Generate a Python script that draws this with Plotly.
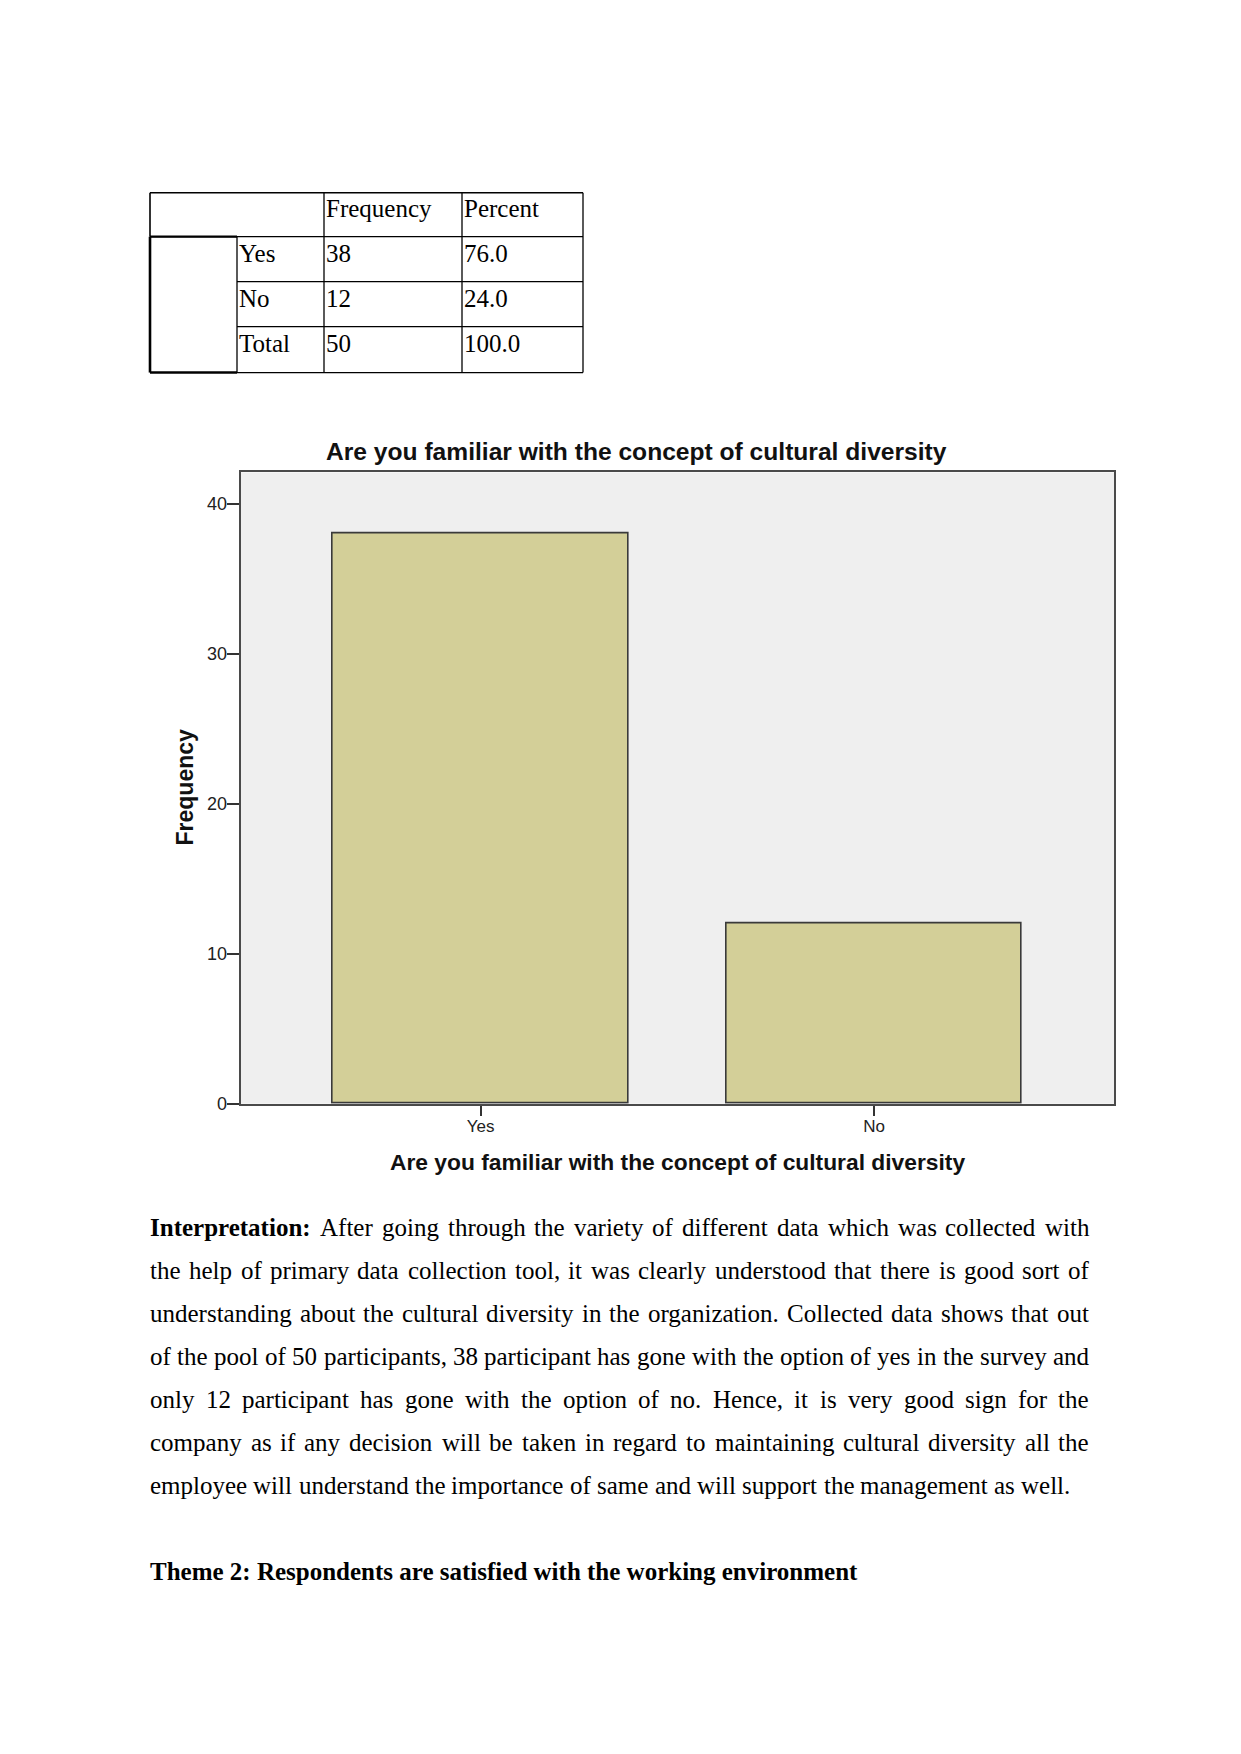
import plotly.graph_objects as go

W, H = 1241, 1754
YK = 1762.0 / 1754.0  # small vertical correction observed between capture and reference

# ---------------- data ----------------
categories = ["Yes", "No"]
frequencies = [38, 12]
table_rows = ["Yes", "No", "Total"]
table_freq = ["38", "12", "50"]
table_pct = ["76.0", "24.0", "100.0"]
table_headers = ["Frequency", "Percent"]
y_ticks = [0, 10, 20, 30, 40]

chart_title = "Are you familiar with the concept of cultural diversity"
x_title = "Are you familiar with the concept of cultural diversity"
y_title = "Frequency"

para_lines = [
    [("Interpretation:", True), ("After going through the variety of different data which was collected with", False)],
    [("the help of primary data collection tool, it was clearly understood that there is good sort of", False)],
    [("understanding about the cultural diversity in the organization. Collected data shows that out", False)],
    [("of the pool of 50 participants, 38 participant has gone with the option of yes in the survey and", False)],
    [("only 12 participant has gone with the option of no. Hence, it is very good sign for the", False)],
    [("company as if any decision will be taken in regard to maintaining cultural diversity all the", False)],
    [("employee will understand the importance of same and will support the management as well.", False)],
]
theme_text = "Theme 2: Respondents are satisfied with the working environment"

# ---------------- font metrics (Times / Liberation Serif) ----------------
TR = dict(zip("ABCDEFGHIJKLMNOPQRSTUVWXYZ",
              [722, 667, 667, 722, 611, 556, 722, 722, 333, 389, 722, 611, 889, 722, 722, 556, 722, 667, 556, 611, 722, 722, 944, 722, 722, 611]))
TR.update(zip("abcdefghijklmnopqrstuvwxyz",
              [444, 500, 444, 500, 444, 333, 500, 500, 278, 278, 500, 278, 778, 500, 500, 500, 500, 333, 389, 278, 500, 500, 722, 500, 500, 444]))
TR.update({c: 500 for c in "0123456789"})
TR.update({" ": 250, ",": 250, ".": 250, ":": 278, "-": 333})
TB = dict(zip("ABCDEFGHIJKLMNOPQRSTUVWXYZ",
              [722, 667, 722, 722, 667, 611, 778, 778, 389, 500, 778, 667, 944, 722, 778, 611, 778, 722, 556, 667, 722, 722, 1000, 722, 722, 667]))
TB.update(zip("abcdefghijklmnopqrstuvwxyz",
              [500, 556, 444, 556, 444, 333, 500, 556, 278, 333, 556, 278, 833, 556, 500, 556, 556, 444, 389, 333, 556, 500, 722, 500, 500, 444]))
TB.update({c: 500 for c in "0123456789"})
TB.update({" ": 250, ",": 250, ".": 250, ":": 333, "-": 333})


def text_w(s, bold, size):
    t = TB if bold else TR
    return sum(t.get(c, 500) for c in s) * size / 1000.0


def px(x):
    return x / W


def py(y):
    return 1 - (y * YK) / H


annotations = []
shapes = []

SERIF = "Liberation Serif"
SANS = "Liberation Sans"


def add_text(x, y, s, size, family=SERIF, bold=False, xanchor="left", yanchor="middle", angle=0, color="#000000"):
    annotations.append(dict(
        x=px(x), y=py(y), xref="paper", yref="paper", text=("<b>%s</b>" % s) if bold else s,
        showarrow=False, xanchor=xanchor, yanchor=yanchor, textangle=angle,
        font=dict(family=family, size=size, color=color), borderpad=0, borderwidth=0,
    ))


def line(x0, y0, x1, y1, w=1.3, color="#000000"):
    shapes.append(dict(type="line", xref="paper", yref="paper", x0=px(x0), y0=py(y0), x1=px(x1), y1=py(y1),
                       line=dict(color=color, width=w)))


# ---------------- table ----------------
tx = [150, 237, 324, 462, 583]
ty = [193, 237, 282, 327, 373]
line(tx[0], ty[0], tx[4], ty[0])             # top
line(tx[0], ty[1], tx[4], ty[1])             # header bottom
line(tx[1], ty[2], tx[4], ty[2])
line(tx[1], ty[3], tx[4], ty[3])
line(tx[1], ty[4], tx[4], ty[4])             # bottom right part
line(tx[0], ty[4], tx[1], ty[4], w=2.6)      # bottom of merged cell
line(tx[0], ty[1], tx[1], ty[1], w=2.2)
line(tx[0], ty[0], tx[0], ty[1], w=1.6)      # left header
line(tx[0], ty[1], tx[0], ty[4], w=2.6)      # left merged cell
line(tx[1], ty[1], tx[1], ty[4], w=1.3)
line(tx[2], ty[0], tx[2], ty[4])
line(tx[3], ty[0], tx[3], ty[4])
line(tx[4], ty[0], tx[4], ty[4])

row_c = [209, 254, 299, 344]
add_text(tx[2] + 1.5, row_c[0], table_headers[0], 25)
add_text(tx[3] + 1.5, row_c[0], table_headers[1], 25)
for i in range(3):
    add_text(tx[1] + 1.5, row_c[i + 1], table_rows[i], 25)
    add_text(tx[2] + 1.5, row_c[i + 1], table_freq[i], 25)
    add_text(tx[3] + 1.5, row_c[i + 1], table_pct[i], 25)

# ---------------- chart ----------------
plot_l, plot_r, plot_t, plot_b = 240.6, 1114.0, 473.0, 1105.0

fig = go.Figure()
fig.add_trace(go.Bar(
    x=categories, y=frequencies, width=0.75,
    marker=dict(color="#d3cf98", line=dict(color="#3a3a3a", width=1.6)),
    hoverinfo="x+y",
))

add_text(636.7, 452.5, chart_title, 24.6, family=SANS, bold=True, xanchor="center", color="#111111")
add_text(677.3, 1163.5, x_title, 22.8, family=SANS, bold=True, xanchor="center", color="#111111")
add_text(185, 788.4, y_title, 23, family=SANS, bold=True, xanchor="center", angle=-90, color="#111111")

# ---------------- paragraph ----------------
FS = 25
L, R = 150, 1089
line_y = [1229.2, 1272.2, 1315.3, 1358.4, 1401.5, 1444.6, 1487.7]
for li, segs in enumerate(para_lines):
    words = []
    for s, b in segs:
        for w_ in s.split(" "):
            words.append((w_, b))
    widths = [text_w(w_, b, FS) for w_, b in words]
    justify = li < len(para_lines) - 1
    if justify and len(words) > 1:
        gap = (R - L - sum(widths)) / (len(words) - 1)
    else:
        gap = 250 * FS / 1000.0
    x = L
    for (w_, b), wd in zip(words, widths):
        add_text(x, line_y[li], w_, FS, bold=b)
        x += wd + gap

add_text(L, 1573.8, theme_text, FS, bold=True)

fig.update_layout(
    width=W, height=H, margin=dict(l=0, r=0, t=0, b=0),
    paper_bgcolor="#ffffff", plot_bgcolor="#efefef",
    showlegend=False, bargap=0,
    xaxis=dict(domain=[px(plot_l), px(plot_r)], range=[-0.61, 1.61], type="category",
               showline=True, linecolor="#4a4a4a", linewidth=2, mirror=True,
               ticks="outside", ticklen=10, tickwidth=2, tickcolor="#333333",
               ticklabelstandoff=-4,
               showgrid=False, zeroline=False,
               tickfont=dict(family=SANS, size=17, color="#222222")),
    yaxis=dict(domain=[py(plot_b), py(plot_t)], range=[0, 42.1],
               tickvals=y_ticks, ticktext=[str(v) for v in y_ticks],
               showline=True, linecolor="#4a4a4a", linewidth=2, mirror=True,
               ticks="outside", ticklen=12, tickwidth=2, tickcolor="#333333",
               ticklabelstandoff=-4,
               showgrid=False, zeroline=False,
               tickfont=dict(family=SANS, size=18, color="#222222")),
    annotations=annotations, shapes=shapes,
)

fig.write_html("out.html")
